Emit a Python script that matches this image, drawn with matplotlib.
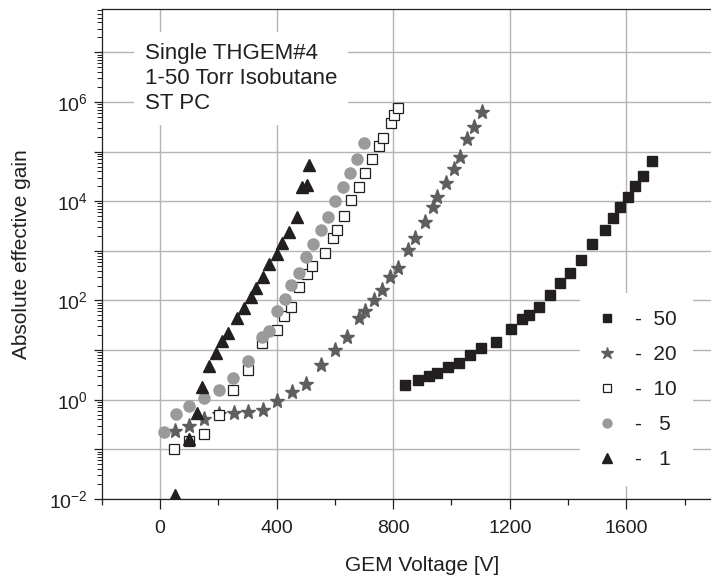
import numpy as np
import matplotlib.pyplot as plt
from matplotlib.ticker import FixedLocator, LogLocator, FuncFormatter, NullFormatter, MultipleLocator

plt.rcParams['font.family'] = ['Liberation Sans', 'DejaVu Sans']
plt.rcParams['mathtext.default'] = 'regular'

# gain curves of a single THGEM in isobutane, one per pressure [Torr]
v_50 = [840, 886, 923, 951, 989, 1026, 1065, 1101, 1152, 1203, 1242, 1265, 1299,
        1339, 1371, 1406, 1443, 1483, 1526, 1554, 1577, 1606, 1629, 1657, 1689]
g_50 = [1.94, 2.5, 3.0, 3.4, 4.5, 5.6, 8.1, 11, 14.5, 27, 42.5, 51, 75,
        130, 222, 353, 655, 1350, 2640, 4540, 7750, 12300, 20300, 32600, 65600]

v_20 = [51, 99, 151, 202, 254, 303, 352, 402, 454, 501, 554, 602, 642, 683, 703,
        735, 760, 789, 817, 851, 874, 909, 937, 951, 980, 1008, 1029, 1054, 1078, 1103]
g_20 = [0.23, 0.30, 0.41, 0.52, 0.54, 0.56, 0.63, 0.95, 1.43, 2.1, 5.0, 10.2, 18.3, 44, 60,
        103, 163, 303, 446, 1040, 1850, 3780, 7800, 12000, 23000, 44500, 79000, 179000,
        316000, 615000]

v_10 = [48, 98, 151, 202, 251, 301, 351, 400, 426, 451, 477, 503, 523, 567, 594,
        606, 632, 657, 683, 703, 729, 752, 766, 794, 802, 817]
g_10 = [0.10, 0.15, 0.2, 0.5, 1.6, 4.0, 13.8, 25.6, 49, 75, 185, 345, 505, 920, 1800,
        2650, 5040, 10600, 19000, 36500, 70500, 131000, 184000, 370000, 540000, 740000]

v_5 = [13, 54, 99, 151, 202, 251, 301, 351, 374, 403, 429, 451, 477, 501, 526,
       552, 577, 602, 628, 651, 677, 700]
g_5 = [0.22, 0.52, 0.73, 1.1, 1.6, 2.8, 6.1, 18, 24.5, 62, 107, 206, 365, 745, 1380,
       2640, 4900, 10000, 19600, 37500, 70500, 152000]

v_1 = [51, 101, 126, 145, 169, 192, 214, 234, 265, 288, 312, 331, 354, 375, 400,
       417, 442, 469, 487, 503, 512]
g_1 = [0.012, 0.16, 0.54, 1.8, 4.7, 8.7, 15, 22.5, 45, 70, 120, 178, 295, 545, 870,
       1420, 2360, 4900, 19000, 21000, 53000]

x_labels = [0, 400, 800, 1200, 1600]

dark = '#231f20'

fig = plt.figure(figsize=(7.11, 5.8), dpi=100)
ax = fig.add_axes([0.143, 0.1397, 0.902, 0.845])
ax.set_yscale('log')
ax.set_xlim(-200, 2000)
ax.set_ylim(1e-2, 7.5e7)

ax.plot(v_50, g_50, ls='none', marker='s', ms=7.5, mfc=dark, mec=dark, label='-  50')
ax.plot(v_20, g_20, ls='none', marker='*', ms=11, mfc='#5e5e5e', mec='#5e5e5e', label='-  20')
ax.plot(v_10, g_10, ls='none', marker='s', ms=7, mfc='white', mec=dark, mew=0.9, label='-  10')
ax.plot(v_5, g_5, ls='none', marker='o', ms=8, mfc='#9a9a9a', mec='#9a9a9a', label='-   5')
ax.plot(v_1, g_1, ls='none', marker='^', ms=8.5, mfc=dark, mec=dark, label='-   1')

# axes, ticks and grid
ax.set_axisbelow(True)
ax.xaxis.set_major_locator(FixedLocator(x_labels))
ax.xaxis.set_minor_locator(MultipleLocator(200))
ax.yaxis.set_major_locator(FixedLocator([10.0 ** k for k in range(-2, 8)]))
ax.yaxis.set_minor_locator(LogLocator(base=10, subs=np.arange(2, 10), numticks=60))
ax.yaxis.set_minor_formatter(NullFormatter())
ax.yaxis.set_major_formatter(FuncFormatter(
    lambda v, p: '$10^{%d}$' % round(np.log10(v)) if round(np.log10(v)) % 2 == 0 else ''))
ax.grid(True, which='major', color='#b4b4b4', lw=1.0)

ax.tick_params(axis='x', which='major', length=7, width=0.9, colors=dark, labelsize=14, pad=8)
ax.tick_params(axis='x', which='minor', length=4.5, width=0.9, colors=dark)
ax.tick_params(axis='y', which='major', length=6, width=0.9, colors=dark, labelsize=14, pad=4)
ax.tick_params(axis='y', which='minor', length=3.5, width=0.7, colors=dark)
for s in ['left', 'bottom', 'top']:
    ax.spines[s].set_color(dark)
    ax.spines[s].set_linewidth(0.9)
ax.spines['right'].set_visible(False)

ax.set_xlabel('GEM Voltage [V]', fontsize=15, color=dark, labelpad=14)
ax.set_ylabel('Absolute effective gain', fontsize=15, color=dark, labelpad=13)

ax.text(0.0675, 0.93, 'Single THGEM#4\n1-50 Torr Isobutane\nST PC', transform=ax.transAxes,
        fontsize=16, color=dark, va='top', ha='left', linespacing=1.25,
        bbox=dict(facecolor='white', edgecolor='none', pad=8))

leg = ax.legend(loc='upper left', bbox_to_anchor=(0.73, 0.441), frameon=True, fontsize=15,
                markerscale=0.8, handlelength=1.0, handletextpad=0.82, labelspacing=0.77,
                borderpad=0.8, fancybox=False)
leg.get_frame().set_facecolor('white')
leg.get_frame().set_edgecolor('none')
leg.get_frame().set_alpha(1.0)
for t in leg.get_texts():
    t.set_color(dark)

fig.savefig('out.png', dpi=100)
